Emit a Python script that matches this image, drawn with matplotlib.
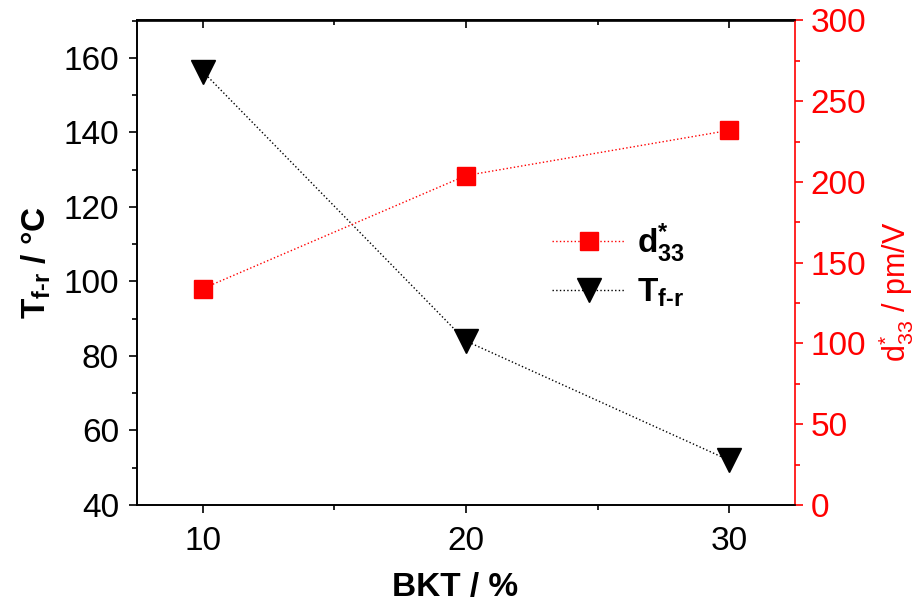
import matplotlib
matplotlib.use("Agg")
import matplotlib.pyplot as plt
from matplotlib.ticker import MultipleLocator

# data
bkt = [10, 20, 30]
t_fr = [156.3, 84.0, 52.0]      # deg C, left axis
d33 = [134, 204, 232]           # pm/V, right axis

plt.rcParams['font.family'] = 'Liberation Sans'
plt.rcParams['mathtext.fontset'] = 'custom'
plt.rcParams['mathtext.rm'] = 'Liberation Sans'
plt.rcParams['mathtext.it'] = 'Liberation Sans:italic'
plt.rcParams['mathtext.bf'] = 'Liberation Sans:bold'

fs = 24
red = '#ff0000'
tfr_tex = '$\\mathbf{T_{f\u2010r}}$'

fig = plt.figure(figsize=(9.21, 6.03), dpi=100)
ax = fig.add_axes([137/921, 1-505/603, (795-137)/921, (505-20.5)/603])
ax2 = ax.twinx()

l1, = ax.plot(bkt, t_fr, ls=':', lw=1, color='black', marker='v', ms=17,
              label=tfr_tex)
l2, = ax2.plot(bkt, d33, ls=':', lw=1, color=red, marker='s', ms=13.5,
               label=r'$\mathbf{d^{*}_{33}}$')

ax.set_xlim(7.5, 32.5)
ax.set_ylim(40, 170)
ax2.set_ylim(0, 300)

ax.xaxis.set_major_locator(MultipleLocator(10))
ax.xaxis.set_minor_locator(MultipleLocator(5))
ax.yaxis.set_major_locator(MultipleLocator(20))
ax.yaxis.set_minor_locator(MultipleLocator(10))
ax2.yaxis.set_major_locator(MultipleLocator(50))
ax2.yaxis.set_minor_locator(MultipleLocator(25))

for a in (ax, ax2):
    for s in a.spines.values():
        s.set_linewidth(1.2)
ax2.spines['right'].set_color(red)
ax.spines['right'].set_visible(False)

ax.tick_params(axis='both', which='major', direction='out', length=6, width=1.2, labelsize=fs, pad=7)
ax.tick_params(axis='both', which='minor', direction='out', length=3.6, width=1.2)
ax.tick_params(axis='x', pad=9)
ax2.tick_params(axis='y', which='major', direction='out', length=6, width=1.2,
                labelsize=fs, colors=red, pad=5)
ax2.tick_params(axis='y', which='minor', direction='out', length=3.6, width=1.2, colors=red)

top = ax.secondary_xaxis('top')
top.xaxis.set_major_locator(MultipleLocator(10))
top.xaxis.set_minor_locator(MultipleLocator(5))
top.tick_params(which='major', direction='in', length=6, width=1.2, labeltop=False)
top.tick_params(which='minor', direction='in', length=3.6, width=1.2)
top.spines['top'].set_linewidth(1.2)

ax.set_xlabel('BKT / %', fontsize=24, fontweight='bold')
ax.xaxis.set_label_coords(0.483, -0.138)
ax.set_ylabel(tfr_tex + ' / °C', fontsize=24, fontweight='bold')
ax.yaxis.set_label_coords(-0.128, 0.5)
ax2.set_ylabel(r'$\mathrm{d^{*}_{33}}$ / pm/V', fontsize=22, color=red)
ax2.yaxis.set_label_coords(1.124, 0.44)

fig.legend(handles=[l2, l1], loc='center left', frameon=False, fontsize=24,
           bbox_to_anchor=(522/921, 1-265/603), handlelength=2.2,
           labelspacing=0.35, handletextpad=0.35)

fig.savefig('out.png', dpi=100)
